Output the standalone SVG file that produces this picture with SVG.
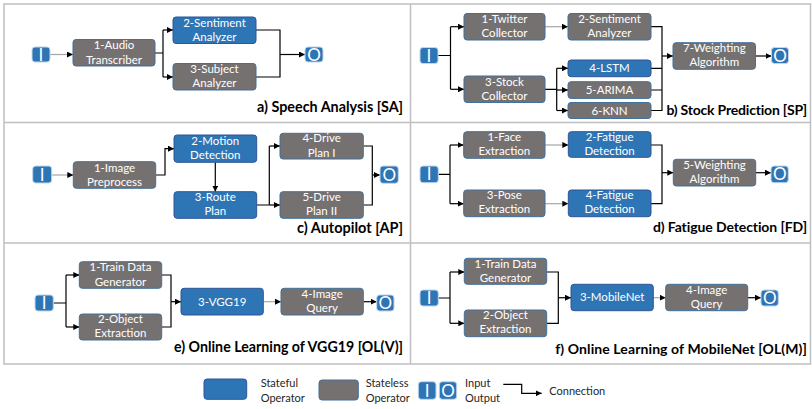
<svg xmlns="http://www.w3.org/2000/svg" width="812" height="409" viewBox="0 0 812 409">
  <style>
    .sf { fill: #2E75B6; stroke: #2F5597; stroke-width: 1; }
    .sl { fill: #767171; stroke: #41719C; stroke-width: 1; }
    .io { fill: #2E75B6; stroke: #BDD7EE; stroke-width: 1; }
    .nt { font-family: Lato, "Liberation Sans", sans-serif; font-size: 11.5px; fill: #FFFFFF; text-anchor: middle; }
    .iot { font-family: Lato, "Liberation Sans", sans-serif; font-size: 17px; fill: #FFFFFF; text-anchor: middle; }
    .ttl { font-family: Lato, "Liberation Sans", sans-serif; font-size: 14.5px; font-weight: bold; fill: #000000; text-anchor: end; }
    .ttr { font-family: Lato, "Liberation Sans", sans-serif; font-size: 14px; font-weight: bold; fill: #000000; text-anchor: end; }
    .lg { font-family: Lato, "Liberation Sans", sans-serif; font-size: 11px; fill: #262626; }
    .c { fill: none; stroke: #000000; stroke-width: 1.2; }
    .cg { fill: none; stroke: #A6A6A6; stroke-width: 1.2; }
    .a { marker-end: url(#ah); }
    .frame { fill: none; stroke: #BFBFBF; stroke-width: 1.5; }
  </style>
  <defs>
    <marker id="ah" viewBox="0 0 10 10" refX="10" refY="5" markerWidth="6" markerHeight="6" orient="auto" markerUnits="userSpaceOnUse">
      <path d="M0,0 L10,5 L0,10 z" fill="#000000"/>
    </marker>
  </defs>

  <rect width="812" height="409" fill="#FFFFFF"/>

  <!-- panel grid -->
  <g id="frame">
    <rect class="frame" x="4" y="4" width="806.5" height="360"/>
    <line class="frame" x1="410.5" y1="4" x2="410.5" y2="364"/>
    <line class="frame" x1="4" y1="122.5" x2="810.5" y2="122.5"/>
    <line class="frame" x1="4" y1="243" x2="810.5" y2="243"/>
  </g>

  <!-- connectors -->
  <g id="connectors">
    <!-- a) speech analysis -->
    <path class="cg a" d="M50,54.5 H73"/>
    <path class="c" d="M155,53 H163 M163,30 V77"/>
    <path class="c a" d="M163,30 H173"/>
    <path class="c a" d="M163,77 H173"/>
    <path class="c" d="M256,30 H280 V77 H256"/>
    <path class="c a" d="M280,54.5 H305"/>

    <!-- b) stock prediction -->
    <path class="c" d="M438,55.5 H450.5 M450.5,26.7 V89.3"/>
    <path class="c a" d="M450.5,26.7 H464"/>
    <path class="c a" d="M450.5,89.3 H464"/>
    <path class="cg a" d="M545,26.7 H568"/>
    <path class="c" d="M545,89.3 H556.7 M556.7,68.3 V110.5"/>
    <path class="c a" d="M556.7,68.3 H568"/>
    <path class="c a" d="M556.7,90 H568"/>
    <path class="c a" d="M556.7,110.5 H568"/>
    <path class="c" d="M651,26.7 H662 V110.5 H651 M651,68.3 H662 M651,90 H662"/>
    <path class="c a" d="M662,56 H673"/>
    <path class="c a" d="M755.5,56 H771.5"/>

    <!-- c) autopilot -->
    <path class="cg a" d="M51.7,175 H73.3"/>
    <path class="c a" d="M155.7,175 H165 V148.7 H174"/>
    <path class="c a" d="M215.3,162.3 V191.7"/>
    <path class="c" d="M256.7,205 H269.3 M269.3,146 V205"/>
    <path class="c a" d="M269.3,146 H280"/>
    <path class="c a" d="M269.3,205 H280"/>
    <path class="c" d="M363.3,146 H372.3 V205 H363.3"/>
    <path class="c a" d="M372.3,175 H380"/>

    <!-- d) fatigue detection -->
    <path class="c" d="M438.3,174.3 H450 M450,145 V203.7"/>
    <path class="c a" d="M450,145 H463.7"/>
    <path class="c a" d="M450,203.7 H463.7"/>
    <path class="cg a" d="M545,145 H568.3"/>
    <path class="cg a" d="M545,203.7 H568.3"/>
    <path class="c" d="M651,145 H662 V203.7 H651"/>
    <path class="c a" d="M662,172.7 H673.3"/>
    <path class="c a" d="M755.7,172.7 H771"/>

    <!-- e) online learning of VGG19 -->
    <path class="c" d="M53.3,303 H66 M66,275 V327"/>
    <path class="c a" d="M66,275 H79.3"/>
    <path class="c a" d="M66,327 H79.3"/>
    <path class="c" d="M161.7,275 H171 V327 H161.7"/>
    <path class="c a" d="M171,301.7 H181"/>
    <path class="cg a" d="M263.3,301.7 H281"/>
    <path class="c a" d="M363.3,301.7 H376.7"/>

    <!-- f) online learning of MobileNet -->
    <path class="c" d="M438.3,298 H450 M450,272 V323.3"/>
    <path class="c a" d="M450,272 H464.3"/>
    <path class="c a" d="M450,323.3 H464.3"/>
    <path class="c" d="M546.7,272 H558.3 V323.3 H546.7"/>
    <path class="c a" d="M558.3,297.7 H571"/>
    <path class="cg a" d="M653.3,297.7 H665.7"/>
    <path class="c a" d="M747.7,297.7 H761"/>

    <!-- legend -->
    <path class="c a" d="M503.3,384.3 H521.7 V393.3 H541.7"/>
  </g>

  <!-- a) Speech Analysis -->
  <g id="sa-in"><rect class="io" x="32" y="47" width="18" height="15" rx="3"/><text class="iot" x="41" y="60.5">I</text></g>
  <g id="sa-1"><rect class="sl" x="73" y="39.5" width="82" height="26.5" rx="3"/><text class="nt" x="114" y="49.3">1-Audio</text><text class="nt" x="114" y="63.5">Transcriber</text></g>
  <g id="sa-2"><rect class="sf" x="173" y="17" width="83" height="26.5" rx="3"/><text class="nt" x="214.5" y="26.7">2-Sentiment</text><text class="nt" x="214.5" y="40.7">Analyzer</text></g>
  <g id="sa-3"><rect class="sl" x="173" y="63.5" width="83" height="26.5" rx="3"/><text class="nt" x="214.5" y="73.2">3-Subject</text><text class="nt" x="214.5" y="87.2">Analyzer</text></g>
  <g id="sa-out"><rect class="io" x="305" y="47" width="18" height="15" rx="3"/><text class="iot" x="314" y="60.5">O</text></g>
  <text class="ttl" x="403" y="112" textLength="146" lengthAdjust="spacingAndGlyphs">a) Speech Analysis [SA]</text>

  <!-- b) Stock Prediction -->
  <g id="sp-in"><rect class="io" x="420" y="47.5" width="18" height="16" rx="3"/><text class="iot" x="429" y="61.5">I</text></g>
  <g id="sp-1"><rect class="sl" x="464" y="13.5" width="81" height="26.5" rx="3"/><text class="nt" x="504.5" y="23.3">1-Twitter</text><text class="nt" x="504.5" y="37.3">Collector</text></g>
  <g id="sp-2"><rect class="sl" x="568" y="13.5" width="83" height="26.5" rx="3"/><text class="nt" x="609.5" y="23.3">2-Sentiment</text><text class="nt" x="609.5" y="37.3">Analyzer</text></g>
  <g id="sp-3"><rect class="sl" x="464" y="76" width="81" height="26.5" rx="3"/><text class="nt" x="504.5" y="86">3-Stock</text><text class="nt" x="504.5" y="100">Collector</text></g>
  <g id="sp-4"><rect class="sf" x="568" y="60" width="83" height="16.7" rx="3"/><text class="nt" x="609.5" y="72.3">4-LSTM</text></g>
  <g id="sp-5"><rect class="sl" x="568" y="81.7" width="83" height="16.7" rx="3"/><text class="nt" x="609.5" y="94">5-ARIMA</text></g>
  <g id="sp-6"><rect class="sl" x="568" y="102.5" width="83" height="16" rx="3"/><text class="nt" x="609.5" y="114.5">6-KNN</text></g>
  <g id="sp-7"><rect class="sl" x="673" y="42.7" width="82.5" height="26.6" rx="3"/><text class="nt" x="714.3" y="52.3">7-Weighting</text><text class="nt" x="714.3" y="66.3">Algorithm</text></g>
  <g id="sp-out"><rect class="io" x="771.5" y="47.5" width="17" height="16" rx="3"/><text class="iot" x="780" y="61.5">O</text></g>
  <text class="ttr" x="807" y="115" letter-spacing="-0.2">b) Stock Prediction [SP]</text>

  <!-- c) Autopilot -->
  <g id="ap-in"><rect class="io" x="32.7" y="166" width="19" height="17" rx="3"/><text class="iot" x="42.2" y="180.5">I</text></g>
  <g id="ap-1"><rect class="sl" x="73.3" y="161.7" width="82.4" height="26.6" rx="3"/><text class="nt" x="114.5" y="171.7">1-Image</text><text class="nt" x="114.5" y="185.7">Preprocess</text></g>
  <g id="ap-2"><rect class="sf" x="174" y="135" width="82.7" height="27.3" rx="3"/><text class="nt" x="215.3" y="145">2-Motion</text><text class="nt" x="215.3" y="159">Detection</text></g>
  <g id="ap-3"><rect class="sf" x="174" y="191.7" width="82.7" height="26.6" rx="3"/><text class="nt" x="215.3" y="201">3-Route</text><text class="nt" x="215.3" y="215">Plan</text></g>
  <g id="ap-4"><rect class="sl" x="280" y="133.3" width="83.3" height="25.7" rx="3"/><text class="nt" x="321.6" y="142.3">4-Drive</text><text class="nt" x="321.6" y="156.5">Plan I</text></g>
  <g id="ap-5"><rect class="sl" x="280" y="191.7" width="83.3" height="26.6" rx="3"/><text class="nt" x="321.6" y="201">5-Drive</text><text class="nt" x="321.6" y="215">Plan II</text></g>
  <g id="ap-out"><rect class="io" x="380" y="166" width="18.3" height="17.3" rx="3"/><text class="iot" x="389.2" y="180.5">O</text></g>
  <text class="ttl" x="403" y="233" textLength="106" lengthAdjust="spacingAndGlyphs">c) Autopilot [AP]</text>

  <!-- d) Fatigue Detection -->
  <g id="fd-in"><rect class="io" x="420" y="166" width="18.3" height="16.7" rx="3"/><text class="iot" x="429.2" y="180.3">I</text></g>
  <g id="fd-1"><rect class="sl" x="463.7" y="131.7" width="81.3" height="26.6" rx="3"/><text class="nt" x="504.3" y="140.8">1-Face</text><text class="nt" x="504.3" y="155">Extraction</text></g>
  <g id="fd-2"><rect class="sf" x="568.3" y="131.7" width="82.7" height="25.6" rx="3"/><text class="nt" x="609.6" y="140.8">2-Fatigue</text><text class="nt" x="609.6" y="155">Detection</text></g>
  <g id="fd-3"><rect class="sl" x="463.7" y="190" width="81.3" height="26.7" rx="3"/><text class="nt" x="504.3" y="199.3">3-Pose</text><text class="nt" x="504.3" y="213.3">Extraction</text></g>
  <g id="fd-4"><rect class="sf" x="568.3" y="190" width="82.7" height="26.7" rx="3"/><text class="nt" x="609.6" y="199.3">4-Fatigue</text><text class="nt" x="609.6" y="213.3">Detection</text></g>
  <g id="fd-5"><rect class="sl" x="673.3" y="159.3" width="82.4" height="26.7" rx="3"/><text class="nt" x="714.5" y="168.5">5-Weighting</text><text class="nt" x="714.5" y="182.7">Algorithm</text></g>
  <g id="fd-out"><rect class="io" x="771" y="166" width="17.3" height="16.7" rx="3"/><text class="iot" x="779.7" y="180.3">O</text></g>
  <text class="ttr" x="807" y="231.7" letter-spacing="-0.1">d) Fatigue Detection [FD]</text>

  <!-- e) Online Learning of VGG19 -->
  <g id="olv-in"><rect class="io" x="35" y="295" width="18.3" height="16" rx="3"/><text class="iot" x="44.2" y="309">I</text></g>
  <g id="olv-1"><rect class="sl" x="79.3" y="261.7" width="82.4" height="26.6" rx="3"/><text class="nt" x="120.5" y="271">1-Train Data</text><text class="nt" x="120.5" y="285.7">Generator</text></g>
  <g id="olv-2"><rect class="sl" x="79.3" y="314" width="82.4" height="26" rx="3"/><text class="nt" x="120.5" y="322.8">2-Object</text><text class="nt" x="120.5" y="336.8">Extraction</text></g>
  <g id="olv-3"><rect class="sf" x="181" y="288.3" width="82.3" height="26.7" rx="3"/><text class="nt" x="222.2" y="305.5">3-VGG19</text></g>
  <g id="olv-4"><rect class="sl" x="281" y="288.3" width="82.3" height="26.7" rx="3"/><text class="nt" x="322.2" y="297.5">4-Image</text><text class="nt" x="322.2" y="311.7">Query</text></g>
  <g id="olv-out"><rect class="io" x="376.7" y="295" width="17.3" height="16" rx="3"/><text class="iot" x="385.4" y="309">O</text></g>
  <text class="ttl" x="403" y="351.7" textLength="229" lengthAdjust="spacingAndGlyphs">e) Online Learning of VGG19 [OL(V)]</text>

  <!-- f) Online Learning of MobileNet -->
  <g id="olm-in"><rect class="io" x="420" y="290" width="18.3" height="16" rx="3"/><text class="iot" x="429.2" y="304">I</text></g>
  <g id="olm-1"><rect class="sl" x="464.3" y="258.3" width="82.4" height="26" rx="3"/><text class="nt" x="505.5" y="267.7">1-Train Data</text><text class="nt" x="505.5" y="282.3">Generator</text></g>
  <g id="olm-2"><rect class="sl" x="464.3" y="310" width="82.4" height="26.7" rx="3"/><text class="nt" x="505.5" y="319.3">2-Object</text><text class="nt" x="505.5" y="333.3">Extraction</text></g>
  <g id="olm-3"><rect class="sf" x="571" y="284.3" width="82.3" height="26.4" rx="3"/><text class="nt" x="612.2" y="301.3">3-MobileNet</text></g>
  <g id="olm-4"><rect class="sl" x="665.7" y="284.3" width="82" height="26.4" rx="3"/><text class="nt" x="706.7" y="294">4-Image</text><text class="nt" x="706.7" y="308.3">Query</text></g>
  <g id="olm-out"><rect class="io" x="761" y="290" width="17.3" height="16" rx="3"/><text class="iot" x="769.7" y="304">O</text></g>
  <text class="ttr" x="807" y="354" letter-spacing="0.1">f) Online Learning of MobileNet [OL(M)]</text>

  <!-- legend -->
  <g id="legend">
    <rect class="sf" x="204" y="379" width="42.7" height="20.3" rx="3"/>
    <text class="lg" x="260.7" y="386.7">Stateful</text>
    <text class="lg" x="260.7" y="401.7">Operator</text>
    <rect class="sl" x="319" y="380" width="39.3" height="20" rx="3"/>
    <text class="lg" x="365.7" y="386.7">Stateless</text>
    <text class="lg" x="365.7" y="401.7">Operator</text>
    <rect class="io" x="418.3" y="381.7" width="17.7" height="17.6" rx="3"/>
    <text class="iot" x="427.2" y="396.5">I</text>
    <rect class="io" x="439.3" y="381.7" width="17.4" height="17.6" rx="3"/>
    <text class="iot" x="448" y="396.5">O</text>
    <text class="lg" x="465" y="386.7">Input</text>
    <text class="lg" x="465" y="401.7">Output</text>
    <text class="lg" x="549.3" y="395">Connection</text>
  </g>
</svg>
